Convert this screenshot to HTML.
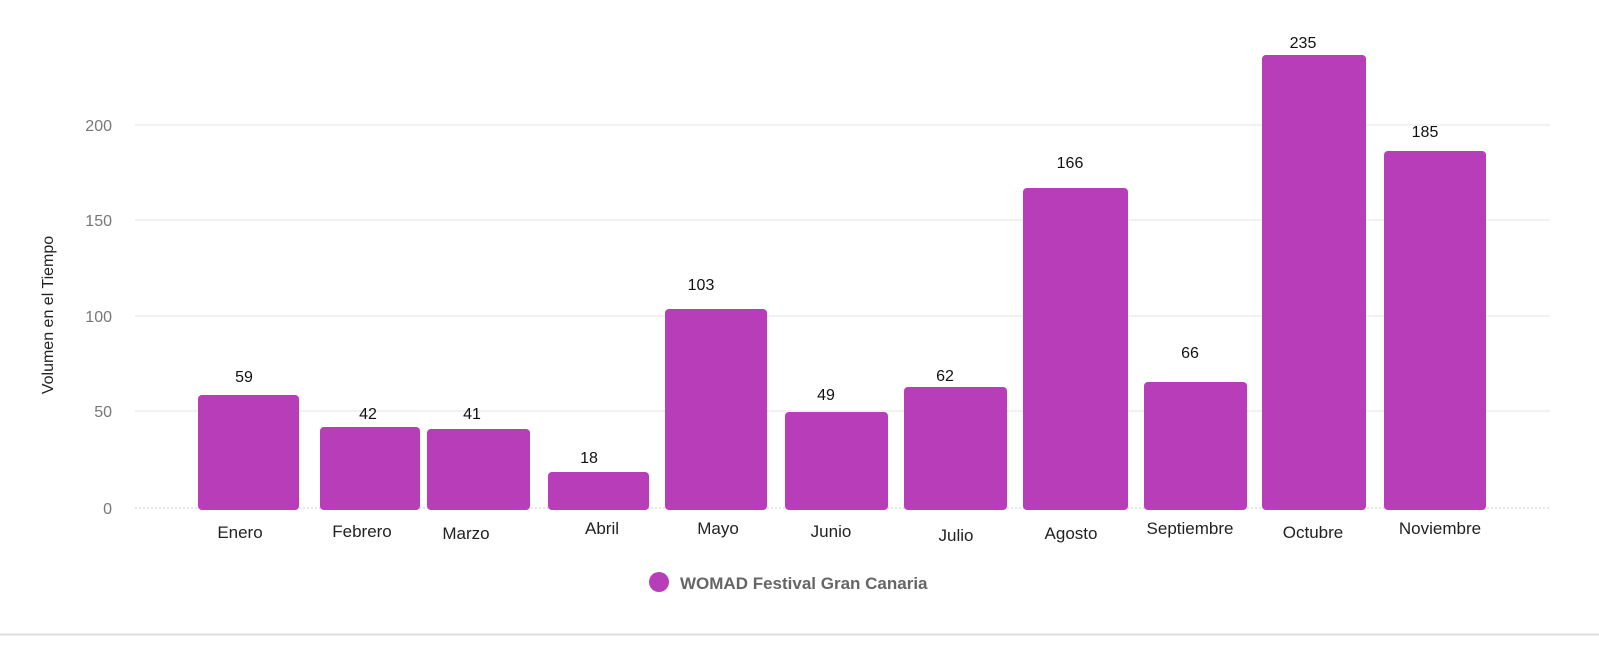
<!DOCTYPE html>
<html><head><meta charset="utf-8"><style>
body{margin:0;background:#fff;}
svg{display:block;font-family:"Liberation Sans",sans-serif;}
</style></head><body>
<svg width="1599" height="649" viewBox="0 0 1599 649">
<rect width="1599" height="649" fill="#fff"/>
<line x1="0" y1="634.5" x2="1599" y2="634.5" stroke="#ddd" stroke-width="2"/>
<g stroke="#e6e6e6" stroke-width="1">
<line x1="135" y1="125" x2="1550" y2="125"/>
<line x1="135" y1="220" x2="1550" y2="220"/>
<line x1="135" y1="316" x2="1550" y2="316"/>
<line x1="135" y1="411" x2="1550" y2="411"/>
<line x1="135" y1="508" x2="1550" y2="508" stroke="#ccc" stroke-dasharray="2,2"/>
</g>
<g fill="#777" font-size="16" text-anchor="end">
<text x="112" y="131">200</text>
<text x="112" y="226">150</text>
<text x="112" y="322">100</text>
<text x="112" y="417">50</text>
<text x="112" y="514">0</text>
</g>
<text transform="translate(53,315) rotate(-90)" font-size="16" fill="#222" text-anchor="middle">Volumen en el Tiempo</text>
<g fill="#b73db9">
<rect x="198" y="395" width="101" height="115" rx="4"/>
<rect x="320" y="427" width="100" height="83" rx="4"/>
<rect x="427" y="429" width="103" height="81" rx="4"/>
<rect x="548" y="472" width="101" height="38" rx="4"/>
<rect x="665" y="309" width="102" height="201" rx="4"/>
<rect x="785" y="412" width="103" height="98" rx="4"/>
<rect x="904" y="387" width="103" height="123" rx="4"/>
<rect x="1023" y="188" width="105" height="322" rx="4"/>
<rect x="1144" y="382" width="103" height="128" rx="4"/>
<rect x="1262" y="55" width="104" height="455" rx="4"/>
<rect x="1384" y="151" width="102" height="359" rx="4"/>
</g>
<g fill="#111" font-size="16" text-anchor="middle">
<text x="244" y="382">59</text>
<text x="368" y="419">42</text>
<text x="472" y="419">41</text>
<text x="589" y="463">18</text>
<text x="701" y="290">103</text>
<text x="826" y="400">49</text>
<text x="945" y="381">62</text>
<text x="1070" y="168">166</text>
<text x="1190" y="358">66</text>
<text x="1303" y="48">235</text>
<text x="1425" y="137">185</text>
</g>
<g fill="#222" font-size="17" text-anchor="middle">
<text x="240" y="538">Enero</text>
<text x="362" y="537">Febrero</text>
<text x="466" y="539">Marzo</text>
<text x="602" y="534">Abril</text>
<text x="718" y="534">Mayo</text>
<text x="831" y="537">Junio</text>
<text x="956" y="541">Julio</text>
<text x="1071" y="539">Agosto</text>
<text x="1190" y="534">Septiembre</text>
<text x="1313" y="538">Octubre</text>
<text x="1440" y="534">Noviembre</text>
</g>
<circle cx="659" cy="582" r="10" fill="#b73db9"/>
<text x="680" y="589" font-size="17" font-weight="bold" fill="#666">WOMAD Festival Gran Canaria</text>
</svg>
</body></html>
